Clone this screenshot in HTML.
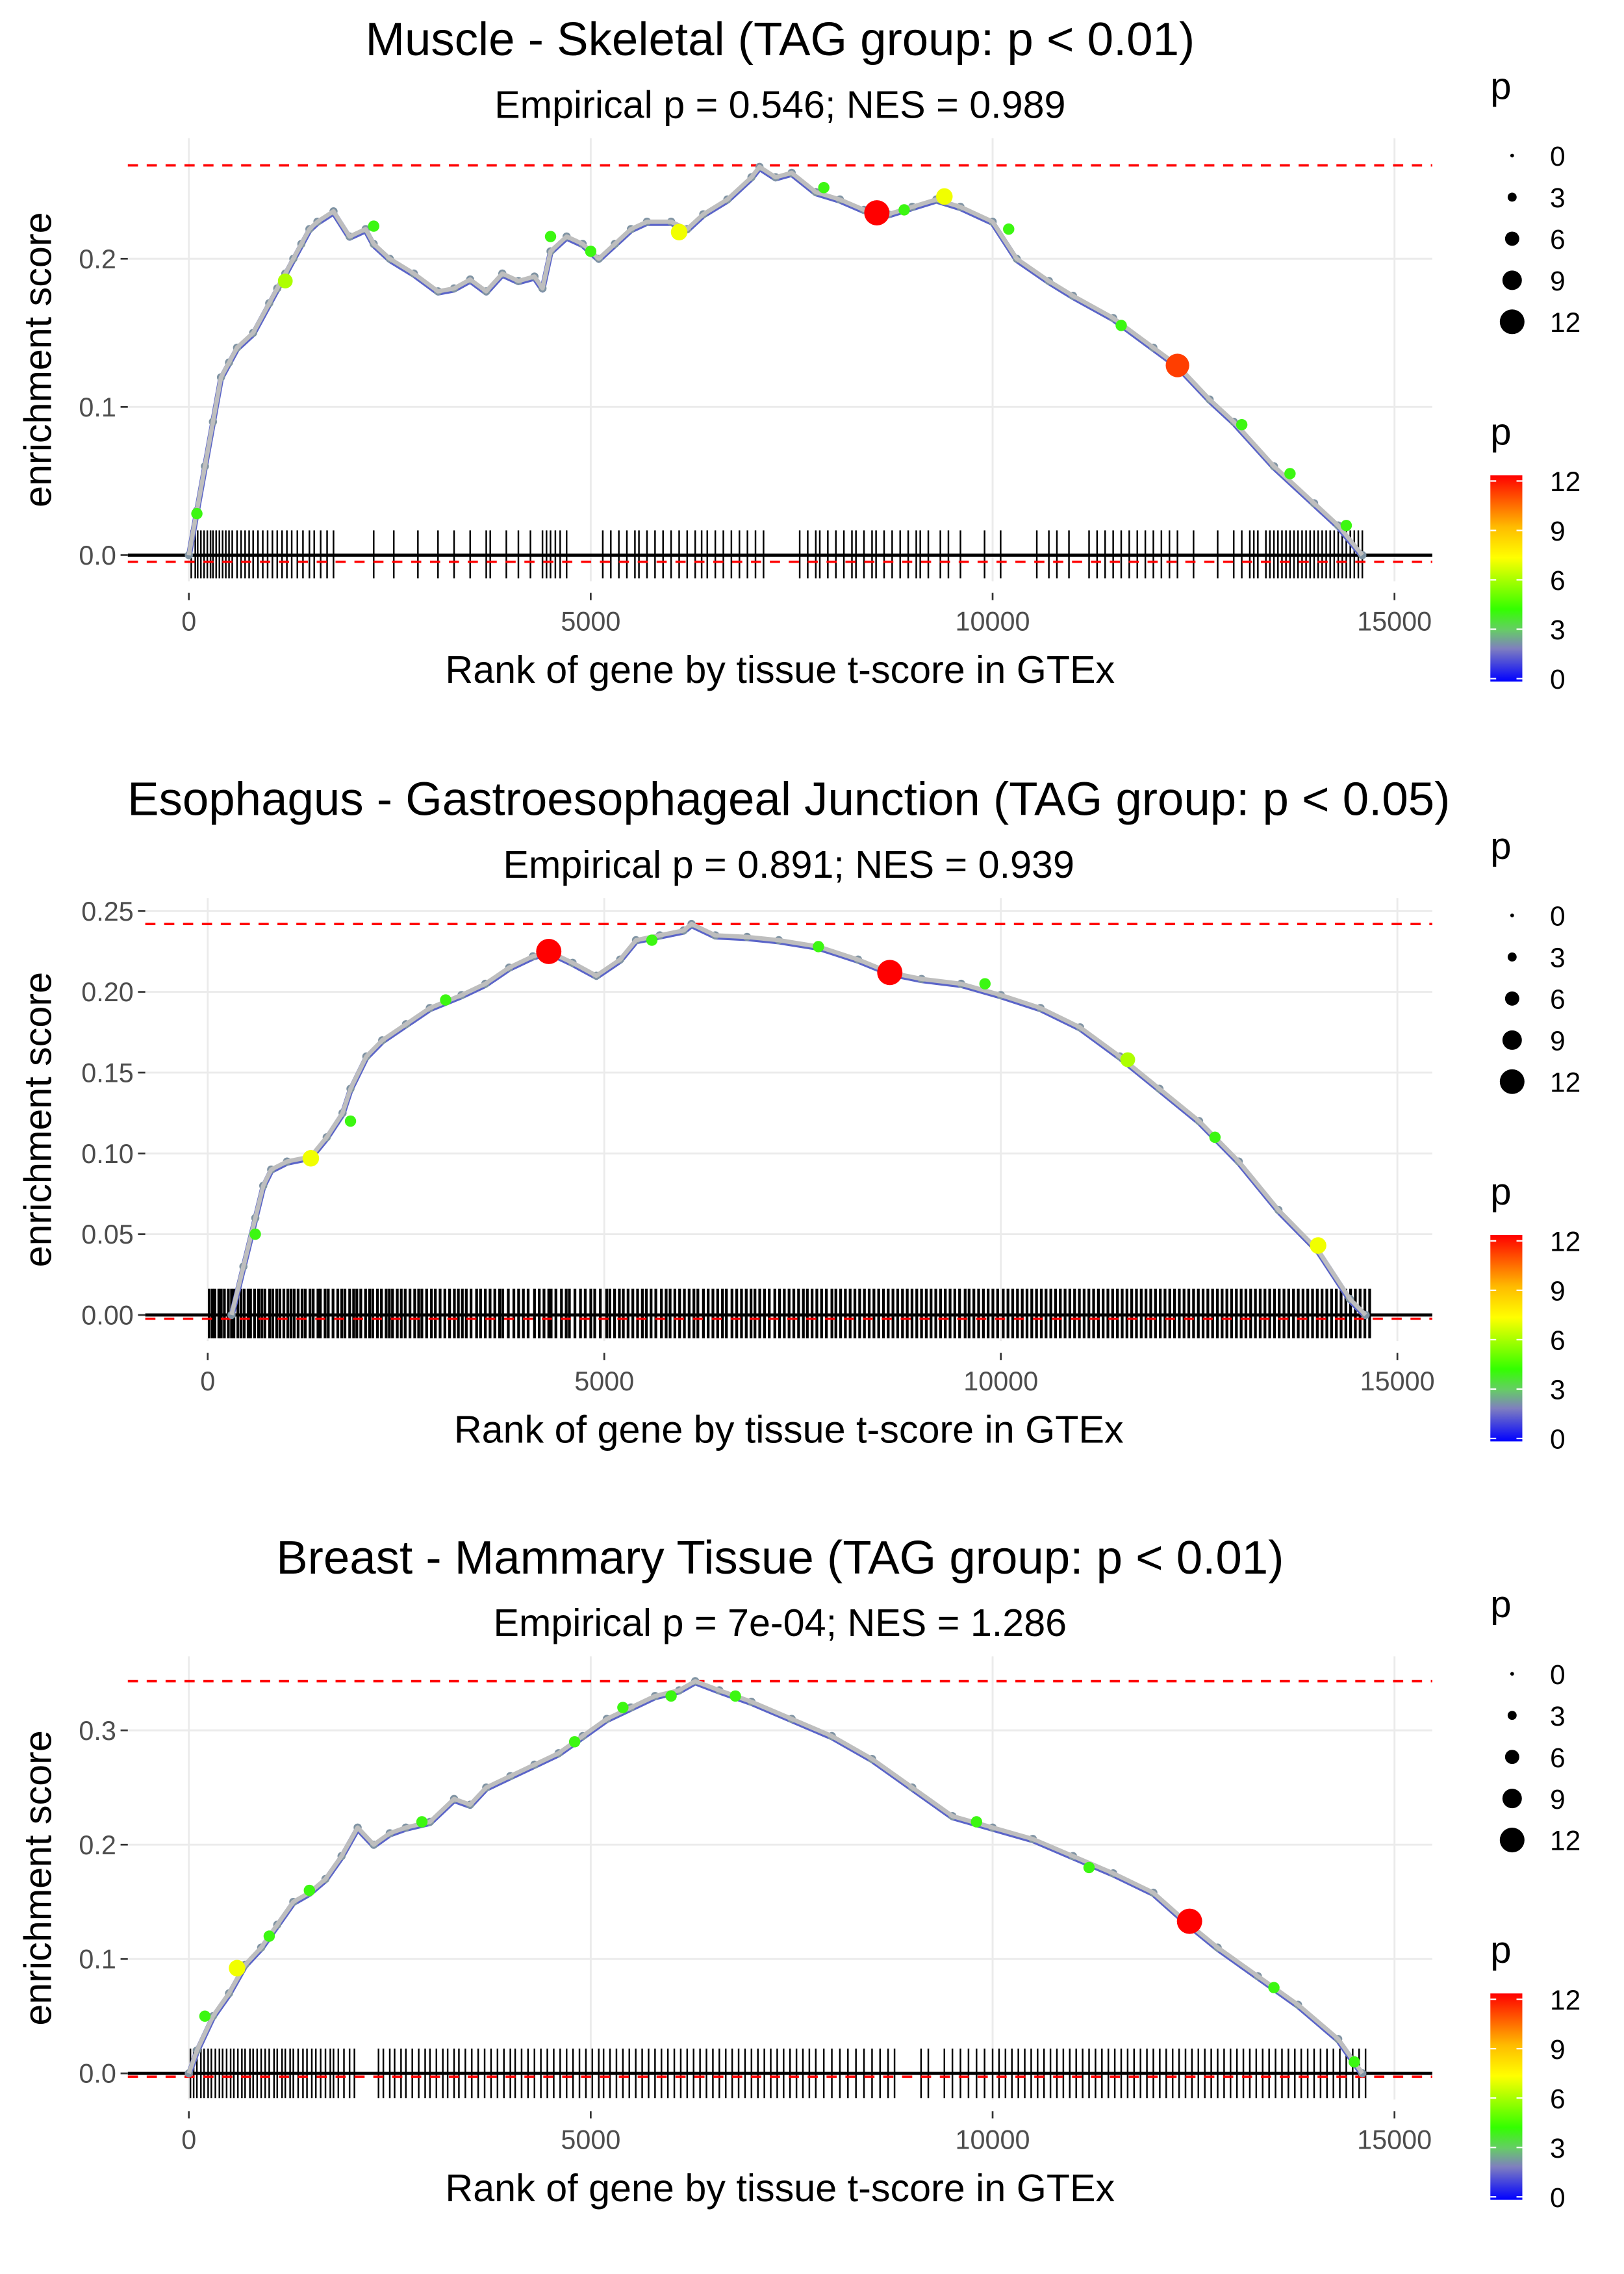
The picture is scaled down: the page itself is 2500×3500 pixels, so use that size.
<!DOCTYPE html>
<html><head><meta charset="utf-8"><style>
html,body{margin:0;padding:0;background:#fff}
svg{display:block}
text{font-family:"Liberation Sans",sans-serif}
</style></head><body>
<svg id="fig" width="2500" height="3500" viewBox="0 0 1118 1565" xmlns="http://www.w3.org/2000/svg">
<defs>
<linearGradient id="pgrad" x1="0" y1="1" x2="0" y2="0">
<stop offset="0" stop-color="#0000ff"/>
<stop offset="0.16" stop-color="#7f7fbf"/>
<stop offset="0.25" stop-color="#66cc66"/>
<stop offset="0.35" stop-color="#33ff00"/>
<stop offset="0.6" stop-color="#ffff00"/>
<stop offset="0.75" stop-color="#ffbb00"/>
<stop offset="1" stop-color="#ff0000"/>
</linearGradient>
</defs>
</svg>
<script>
// ---------- Panel 1 data ----------
const p1Ranks=[0,100,200,300,400,500,600,800,1000,1100,1200,1300,1400,1500,1600,1800,2000,2200,2300,2500,2800,3100,3300,3500,3700,3900,4100,4300,4400,4500,4700,4900,5100,5300,5500,5700,6000,6200,6400,6700,7000,7100,7300,7500,7800,8100,8400,8700,9000,9300,9600,10000,10300,10700,11000,11500,12000,12300,12700,13000,13500,14000,14300,14600];
const p1ES=[0.0,0.03,0.06,0.09,0.12,0.13,0.14,0.15,0.17,0.18,0.19,0.20,0.21,0.22,0.225,0.232,0.215,0.22,0.21,0.20,0.19,0.178,0.18,0.186,0.178,0.19,0.185,0.188,0.18,0.205,0.215,0.21,0.20,0.21,0.22,0.225,0.225,0.22,0.23,0.24,0.255,0.262,0.255,0.258,0.245,0.24,0.233,0.23,0.235,0.24,0.235,0.225,0.20,0.185,0.175,0.16,0.14,0.128,0.105,0.09,0.06,0.035,0.02,0.0];
const p1HitRank=[100,1200,2300,4500,5000,6100,7900,8560,8900,9400,10200,11600,12300,13100,13700,14400];
const p1HitES=[0.028,0.185,0.222,0.215,0.205,0.218,0.248,0.231,0.233,0.242,0.22,0.155,0.128,0.088,0.055,0.02];
const p1HitP=[4,6,4,4,4,7,4,12,4,7,4,4,11,4,4,4];
const p1Rug=[30,80,110,150,190,230,270,300,340,380,420,460,500,540,600,650,700,750,800,860,920,980,1040,1100,1160,1220,1280,1350,1420,1500,1560,1640,1720,1800,2300,2550,2850,3100,3300,3500,3700,3750,3950,4100,4250,4400,4450,4500,4560,4620,4700,5150,5250,5350,5450,5550,5600,5700,5800,5900,6000,6100,6200,6300,6380,6450,6550,6650,6750,6850,6950,7050,7150,7600,7700,7800,7850,7950,8050,8150,8250,8300,8400,8500,8550,8650,8750,8850,8950,9050,9100,9200,9350,9450,9600,9900,10100,10550,10700,10800,10950,11200,11300,11400,11500,11600,11700,11800,11900,12000,12100,12200,12300,12500,12800,13000,13100,13200,13250,13300,13400,13450,13500,13550,13600,13650,13700,13750,13800,13850,13900,13950,14000,14050,14100,14150,14200,14250,14300,14350,14400,14450,14500,14550,14600];
const p1YTicks=[0,0.1,0.2];
const p1YLabels=["0.0","0.1","0.2"];
const p1Max=0.263, p1Min=-0.003;

// ---------- Panel 2 data ----------
const p2Ranks=[300,450,600,700,800,1000,1300,1500,1700,1800,2000,2200,2500,2800,3200,3500,3800,4100,4300,4600,4900,5200,5400,5700,6000,6100,6400,6800,7200,7700,8200,8600,9000,9500,10000,10500,11000,11500,12000,12500,13000,13500,14000,14400,14600];
const p2ES=[0,0.03,0.06,0.08,0.09,0.095,0.098,0.11,0.125,0.14,0.16,0.17,0.18,0.19,0.198,0.205,0.215,0.222,0.225,0.218,0.21,0.22,0.232,0.235,0.238,0.242,0.235,0.234,0.232,0.228,0.22,0.212,0.208,0.205,0.198,0.19,0.178,0.16,0.14,0.12,0.095,0.065,0.04,0.01,0];
const p2HitRank=[600,1300,1800,3000,4300,5600,7700,8600,9800,11600,12700,14000];
const p2HitES=[0.05,0.097,0.12,0.195,0.225,0.232,0.228,0.212,0.205,0.158,0.11,0.043];
const p2HitP=[4,7,4,4,12,4,4,12,4,6,4,7];
const p2Rug=[20,60,90,140,170,210,260,300,330,380,420,460,510,540,590,640,680,720,780,820,870,910,960,1010,1050,1090,1140,1190,1230,1290,1330,1390,1420,1480,1520,1580,1640,1690,1730,1790,1840,1880,1930,1990,2040,2080,2140,2190,2250,2290,2330,2390,2440,2490,2550,2610,2660,2700,2760,2820,2870,2930,2990,3050,3110,3160,3210,3260,3320,3390,3440,3500,3560,3620,3680,3720,3790,3860,3920,3980,4040,4120,4180,4240,4300,4330,4390,4460,4520,4560,4630,4700,4760,4830,4880,4950,5030,5070,5130,5190,5240,5300,5360,5420,5480,5530,5590,5650,5720,5780,5830,5890,5950,6010,6070,6130,6180,6250,6310,6370,6430,6490,6540,6610,6670,6730,6790,6850,6900,6960,7020,7080,7150,7210,7270,7330,7390,7450,7510,7560,7620,7680,7740,7800,7870,7920,7980,8040,8100,8160,8220,8280,8340,8400,8460,8520,8580,8640,8700,8760,8820,8880,8940,9000,9060,9120,9180,9240,9300,9360,9420,9480,9550,9600,9660,9720,9780,9840,9900,9960,10030,10090,10150,10210,10270,10330,10390,10450,10510,10570,10630,10690,10750,10810,10870,10930,10990,11050,11110,11170,11230,11290,11350,11410,11470,11530,11590,11650,11710,11770,11830,11890,11950,12010,12070,12130,12190,12250,12310,12370,12430,12490,12550,12610,12670,12730,12790,12850,12910,12970,13030,13090,13150,13210,13270,13330,13390,13450,13510,13570,13630,13690,13750,13810,13870,13930,13990,14050,14110,14170,14230,14290,14350,14410,14470,14530,14590,14650];
const p2YTicks=[0,0.05,0.10,0.15,0.20,0.25];
const p2YLabels=["0.00","0.05","0.10","0.15","0.20","0.25"];
const p2Max=0.242, p2Min=-0.001;

// ---------- Panel 3 data ----------
const p3Ranks=[0,100,300,500,700,900,1100,1300,1500,1700,1900,2100,2300,2500,2700,3000,3300,3500,3700,4000,4300,4600,4900,5200,5500,5800,6100,6300,6600,7000,7500,8000,8500,9000,9500,10000,10500,11000,11500,12000,12400,12800,13300,13800,14300,14600];
const p3ES=[0,0.02,0.05,0.07,0.095,0.11,0.13,0.15,0.158,0.17,0.19,0.215,0.2,0.21,0.215,0.22,0.24,0.235,0.25,0.26,0.27,0.28,0.295,0.31,0.32,0.33,0.335,0.343,0.335,0.325,0.31,0.295,0.275,0.25,0.225,0.215,0.205,0.19,0.175,0.158,0.133,0.11,0.085,0.06,0.03,0];
const p3HitRank=[200,600,1000,1500,2900,4800,5400,6000,6800,9800,11200,12450,13500,14500];
const p3HitES=[0.05,0.092,0.12,0.16,0.22,0.29,0.32,0.33,0.33,0.22,0.18,0.133,0.075,0.01];
const p3HitP=[4,7,4,4,4,4,4,4,4,4,4,12,4,4];
const p3Rug=[20,60,100,150,190,240,280,330,380,420,470,520,560,610,660,700,760,800,850,900,950,1000,1060,1100,1160,1200,1260,1300,1360,1420,1470,1530,1580,1640,1700,1760,1800,1860,1930,2000,2060,2360,2420,2500,2560,2640,2700,2780,2860,2940,3000,3080,3160,3220,3300,3360,3440,3520,3600,3680,3760,3840,3920,4000,4060,4140,4220,4300,4380,4460,4540,4620,4700,4780,4860,4940,5020,5100,5160,5240,5320,5400,5480,5560,5640,5720,5800,5880,5960,6040,6120,6200,6280,6360,6440,6520,6600,6680,6760,6840,6920,7000,7080,7160,7240,7320,7400,7480,7560,7640,7720,7800,7900,8000,8100,8200,8300,8400,8500,8600,8700,8780,9110,9200,9400,9500,9600,9700,9800,9900,10000,10080,10160,10240,10320,10400,10480,10560,10640,10720,10800,10880,10960,11040,11120,11200,11280,11360,11440,11520,11600,11680,11760,11840,11920,12000,12080,12160,12240,12320,12400,12480,12560,12640,12720,12800,12880,12960,13040,13120,13200,13280,13360,13440,13520,13600,13680,13760,13840,13920,14000,14080,14160,14240,14320,14400,14480,14560,14640];
const p3YTicks=[0,0.1,0.2,0.3];
const p3YLabels=["0.0","0.1","0.2","0.3"];
const p3Max=0.343, p3Min=-0.001;

const xTicks=[0,5000,10000,15000];
const xTickLabels=["0","5000","10000","15000"];
const legendSizes=[0,3,6,9,12];
const legendColorLabels=["12","9","6","3","0"];

const NS="http://www.w3.org/2000/svg";
const svg=document.getElementById('fig');
function mk(tag,attrs,parent){const e=document.createElementNS(NS,tag);for(const k in attrs)e.setAttribute(k,attrs[k]);(parent||svg).appendChild(e);return e;}
function txt(s,attrs,parent){const e=mk('text',attrs,parent);e.textContent=s;return e;}
function pColor(p){
  const stops=[[0,[0,0,255]],[1.9,[127,127,191]],[3,[102,204,102]],[4.2,[51,255,0]],[7.2,[255,255,0]],[9,[255,187,0]],[12,[255,0,0]]];
  for(let i=1;i<stops.length;i++){if(p<=stops[i][0]){const a=stops[i-1],b=stops[i];const t=(p-a[0])/(b[0]-a[0]);const c=a[1].map((v,j)=>Math.round(v+(b[1][j]-v)*t));return `rgb(${c[0]},${c[1]},${c[2]})`;}}
  return 'rgb(255,0,0)';
}
function pRadius(p){return 1.5+p*0.6;}

function drawPanel(o){
  const g=mk('g',{});
  
  
  const xs=v=>o.x0+(v/15000)*(o.x15-o.x0);
  const ys=v=>o.y0-v*o.ppu;
  xTicks.forEach(t=>{const l=mk('line',{x1:xs(t),x2:xs(t),y1:o.top,y2:o.bot,stroke:'#ebebeb','stroke-width':1.3},g);});
  o.yt.forEach(t=>{const l=mk('line',{x1:o.left,x2:o.right,y1:ys(t),y2:ys(t),stroke:'#ebebeb','stroke-width':1.3},g);});
  const rg=mk('g',{},g);
  
  
  o.rug.forEach(r=>{mk('line',{x1:xs(r),x2:xs(r),y1:o.rugTop,y2:o.rugBot,stroke:'#000','stroke-width':o.rugW},rg);});
  const zl=mk('line',{x1:o.left,x2:o.right,y1:ys(0),y2:ys(0),stroke:'#000','stroke-width':2.2},g);
  
  
  const dmax=mk('line',{x1:o.left,x2:o.right,y1:ys(o.max),y2:ys(o.max),stroke:'#ff0000','stroke-width':1.6,'stroke-dasharray':'7,6'},g);
  
  
  const dmin=mk('line',{x1:o.left,x2:o.right,y1:ys(o.min)+1.5,y2:ys(o.min)+1.5,stroke:'#ff0000','stroke-width':1.6,'stroke-dasharray':'7,6'},g);
  
  
  const pts=o.ranks.map((r,i)=>xs(r)+','+ys(o.es[i])).join(' ');
  const under=mk('polyline',{points:pts,fill:'none',stroke:'#5a64c8','stroke-width':4,'stroke-linejoin':'round',transform:'translate(0,0.9)'},g);
  
  
  const dg=mk('g',{},g);
  
  
  o.ranks.forEach((r,i)=>{mk('circle',{cx:xs(r),cy:ys(o.es[i]),r:2.8,fill:'#7f93a3'},dg);});
  const cl=mk('polyline',{points:pts,fill:'none',stroke:'#bebebe','stroke-width':3,'stroke-linejoin':'round'},g);
  
  
  o.hr.forEach((r,i)=>{const c=mk('circle',{cx:xs(r),cy:ys(o.he[i]),r:pRadius(o.hp[i]),fill:pColor(o.hp[i])},g);});
  xTicks.forEach((t,i)=>{mk('line',{x1:xs(t),x2:xs(t),y1:o.xtickY,y2:o.xtickY+5,stroke:'#333','stroke-width':1.2},g);const e=txt(xTickLabels[i],{x:xs(t),y:o.xtickY+26,'text-anchor':'middle','font-size':18.5,fill:'#4d4d4d'},g);});
  o.yt.forEach((t,i)=>{mk('line',{x1:o.left-5,x2:o.left,y1:ys(t),y2:ys(t),stroke:'#333','stroke-width':1.2},g);const e=txt(o.yl[i],{x:o.left-8,y:ys(t)+6.5,'text-anchor':'end','font-size':18.5,fill:'#4d4d4d'},g);});
  const xt=txt('Rank of gene by tissue t-score in GTEx',{x:o.xTitleX,y:o.xtickY+62,'text-anchor':'middle','font-size':26.5,fill:'#000'},g);
  
  const yt=txt('enrichment score',{x:0,y:0,'text-anchor':'middle','font-size':26.5,fill:'#000',transform:`translate(35,${(o.top+o.bot)/2}) rotate(-90)`},g);
  
  const ti=txt(o.title,{x:o.titleX,y:o.titleY,'text-anchor':'middle','font-size':32.5,fill:'#000'},g);
  
  const st=txt(o.sub,{x:o.titleX,y:o.titleY+43,'text-anchor':'middle','font-size':26.5,fill:'#000'},g);
  
  const lg=mk('g',{},g);
  
  
  txt('p',{x:1026,y:o.legY,'font-size':26},lg);
  legendSizes.forEach((s,i)=>{const yy=o.legY+39+i*28.6;mk('circle',{cx:1041,cy:yy,r:pRadius(s)-0.2,fill:'#000'},lg);txt(String(s),{x:1067,y:yy+7,'font-size':19},lg);});
  const cg=mk('g',{},g);
  
  
  txt('p',{x:1026,y:o.legY+238,'font-size':26},cg);
  const bt=o.legY+259, bh=142;
  mk('rect',{x:1026,y:bt,width:22,height:bh,fill:'url(#pgrad)'},cg);
  legendColorLabels.forEach((s,i)=>{const yy=bt+4+i*34;mk('line',{x1:1026,x2:1030,y1:yy,y2:yy,stroke:'#fff','stroke-width':1},cg);mk('line',{x1:1044,x2:1048,y1:yy,y2:yy,stroke:'#fff','stroke-width':1},cg);txt(s,{x:1067,y:yy+7,'font-size':19},cg);});
}

drawPanel({name:'panel-muscle-skeletal',title:'Muscle - Skeletal (TAG group: p < 0.01)',sub:'Empirical p = 0.546; NES = 0.989',titleX:537,titleY:38,xTitleX:537,rugW:1.1,
  x0:130,x15:960,y0:382,ppu:1020,top:95,bot:400,left:88,right:986,rugTop:365,rugBot:398,xtickY:408,legY:68,
  ranks:p1Ranks,es:p1ES,hr:p1HitRank,he:p1HitES,hp:p1HitP,rug:p1Rug,yt:p1YTicks,yl:p1YLabels,max:p1Max,min:p1Min});
drawPanel({name:'panel-esophagus-gej',title:'Esophagus - Gastroesophageal Junction (TAG group: p < 0.05)',sub:'Empirical p = 0.891; NES = 0.939',titleX:543,titleY:561,xTitleX:543,rugW:1.9,
  x0:143,x15:962,y0:905,ppu:1112,top:618,bot:923,left:100,right:986,rugTop:887,rugBot:921,xtickY:931,legY:591,
  ranks:p2Ranks,es:p2ES,hr:p2HitRank,he:p2HitES,hp:p2HitP,rug:p2Rug,yt:p2YTicks,yl:p2YLabels,max:p2Max,min:p2Min});
drawPanel({name:'panel-breast-mammary',title:'Breast - Mammary Tissue (TAG group: p < 0.01)',sub:'Empirical p = 7e-04; NES = 1.286',titleX:537,titleY:1083,xTitleX:537,rugW:1.1,
  x0:130,x15:960,y0:1427,ppu:787,top:1140,bot:1445,left:88,right:986,rugTop:1410,rugBot:1444,xtickY:1453,legY:1113,
  ranks:p3Ranks,es:p3ES,hr:p3HitRank,he:p3HitES,hp:p3HitP,rug:p3Rug,yt:p3YTicks,yl:p3YLabels,max:p3Max,min:p3Min});
</script>
</body></html>
